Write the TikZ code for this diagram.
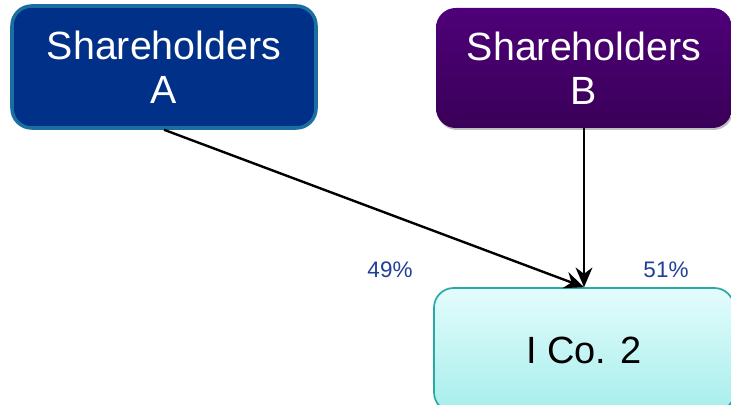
\documentclass[tikz,border=0pt]{standalone}
\usepackage{fontspec}
\setmainfont{Liberation Sans}
\usepackage{tikz}
\usepackage{xcolor}
\usetikzlibrary{arrows.meta, shadows}
\definecolor{holdA}{HTML}{003087}
\definecolor{holdAline}{HTML}{1A6EA0}
\definecolor{holdBtop}{HTML}{4E0078}
\definecolor{holdBbot}{HTML}{3A0058}
\definecolor{icotop}{HTML}{E4FCFC}
\definecolor{icobot}{HTML}{A6EEEC}
\definecolor{icoline}{HTML}{27A9A6}
\definecolor{pct}{HTML}{1F3F99}

\begin{document}
\begin{tikzpicture}[box/.style = {rounded corners=14pt, align=center, inner sep=0pt},
        share/.style = {->, >={Stealth[length=14pt,width=12pt]}, line width=1.7pt}]
        \useasboundingbox (0,0) rectangle (18.275,10.1);
        \clip (0,0) rectangle (18.275,10.1);
         \node[box, draw=holdAline, line width=2.5pt, fill=holdA, text=white,
               minimum width=7.6cm, minimum height=3.05cm,
               font=\fontsize{28}{31}\selectfont] at (4.1, 8.425) (A) {Shareholders\\A};
         \node[box, top color=holdBtop, bottom color=holdBbot, text=white,
               drop shadow={opacity=0.5, shadow xshift=0.03cm, shadow yshift=-0.05cm},
               minimum width=7.4cm, minimum height=3.0cm,
               font=\fontsize{28}{31}\selectfont] at (14.6, 8.4) (B) {Shareholders\\B};
        \node[box, draw=icoline, line width=1.2pt, top color=icotop, bottom color=icobot,
               minimum width=7.5cm, minimum height=3.1cm,
               font=\fontsize{27}{30}\selectfont] at (14.6, 1.35) (C) {I Co. 2};
        \node[text=pct, font=\fontsize{16}{18}\selectfont] at (9.75, 3.35) (pA) {49\%};
        \node[text=pct, font=\fontsize{16}{18}\selectfont] at (16.65, 3.35) (pB) {51\%};
        \draw[share] (A.south) -- (C.north);
        \draw[share] (B.south) -- (C.north);
        \end{tikzpicture}
\end{document}
